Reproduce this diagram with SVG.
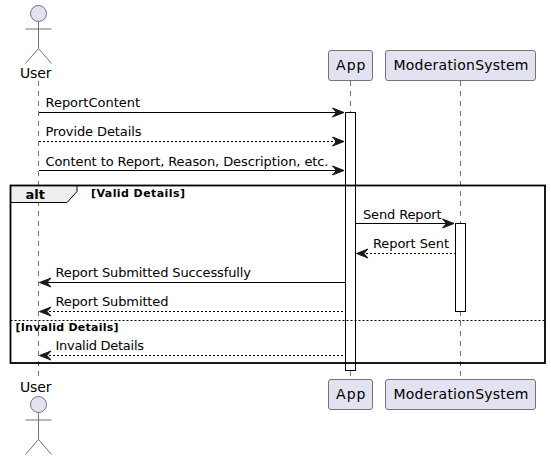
<svg xmlns="http://www.w3.org/2000/svg" width="551" height="460" viewBox="0 0 551 460">
<style>
text{font-family:"DejaVu Sans",sans-serif;font-size:13px;fill:#000}
.big{font-size:14px}
.life{stroke:#737378;stroke-width:1;stroke-dasharray:5,5;fill:none}
.box{fill:#E2E2F0;stroke:#737378;stroke-width:1}
.act{fill:#fff;stroke:#000;stroke-width:1}
.msg{stroke:#000;stroke-width:1;fill:none}
.dash{stroke-dasharray:2,2}
.head{fill:#1a1a1a;stroke:#1a1a1a;stroke-width:1}
.stick{fill:none;stroke:#737378;stroke-width:1}
.cap{font-size:11px;font-weight:bold}
</style>
<defs>
<g id="actor"><circle cx="0" cy="0" r="8" fill="#E2E2F0" stroke="#737378"/><path class="stick" d="M0 8V35M-13 15.500H13M0 35L-13 50M0 35L13 50"/></g>
<polygon id="hr" points="0,0 -11.500,-4.500 -7.500,0 -11.500,4.500"/>
<polygon id="hl" points="0,0 11.500,-4.500 7.500,0 11.500,4.500"/>
</defs>
<g id="lifelines">
<path class="life" d="M38.500 81V377"/><path class="life" d="M350.500 81V377"/><path class="life" d="M460.500 81V377"/>
</g>
<g id="activations">
<rect class="act" x="345.500" y="112.500" width="10" height="258"/>
<rect class="act" x="455.500" y="223.500" width="10" height="88"/>
</g>
<g id="connectors">
<path class="msg" d="M39 112.500H338"/><use href="#hr" class="head" x="344" y="112.500"/>
<path class="msg dash" d="M39 141.500H338"/><use href="#hr" class="head" x="344" y="141.500"/>
<path class="msg" d="M39 170.500H338"/><use href="#hr" class="head" x="344" y="170.500"/>
<path class="msg" d="M356 223.500H448"/><use href="#hr" class="head" x="454" y="223.500"/>
<path class="msg dash" d="M362 253.500H455"/><use href="#hl" class="head" x="356.500" y="253.500"/>
<path class="msg" d="M45 282.500H345"/><use href="#hl" class="head" x="39.500" y="282.500"/>
<path class="msg dash" d="M45 311.500H345"/><use href="#hl" class="head" x="39.500" y="311.500"/>
<path class="msg dash" d="M45 355.500H345"/><use href="#hl" class="head" x="39.500" y="355.500"/>
</g>
<g id="alt-frame">
<path d="M10.500 185.500H77V191.500L67 202.500H10.500Z" fill="#EEEEEE" stroke="#000" stroke-width="1"/>
<rect x="10.500" y="185.500" width="534.500" height="177.500" fill="none" stroke="#000" stroke-width="1.800"/>
<path d="M10.500 320.500H544.500" stroke="#000" stroke-width="1" stroke-dasharray="2,2"/>
<text x="25.500" y="199" textLength="19.500" style="font-weight:bold">alt</text>
<text class="cap" x="91" y="197" textLength="94">[Valid Details]</text>
<text class="cap" x="15.500" y="331" textLength="103">[Invalid Details]</text>
</g>
<g id="labels">
<text x="45.500" y="107" textLength="94.500">ReportContent</text>
<text x="45.500" y="136" textLength="96">Provide Details</text>
<text x="45.500" y="165.500" textLength="283">Content to Report, Reason, Description, etc.</text>
<text x="363" y="219" textLength="78.500">Send Report</text>
<text x="373" y="248" textLength="76">Report Sent</text>
<text x="55.500" y="277" textLength="195.500">Report Submitted Successfully</text>
<text x="55.500" y="306" textLength="113">Report Submitted</text>
<text x="55.500" y="350" textLength="88.500">Invalid Details</text>
</g>
<g id="node-user-top"><use href="#actor" x="38.500" y="13.500"/><text class="big" x="20" y="77.500" textLength="31.500">User</text></g>
<g id="node-app-top"><rect class="box" x="328.500" y="50.500" width="44" height="30" rx="2.500"/><text class="big" x="336" y="70" textLength="29.500">App</text></g>
<g id="node-mod-top"><rect class="box" x="385.500" y="50.500" width="150" height="30" rx="2.500"/><text class="big" x="393.500" y="70" textLength="135">ModerationSystem</text></g>
<g id="node-user-bottom"><text class="big" x="20" y="392" textLength="31.500">User</text><use href="#actor" x="38.500" y="404.500"/></g>
<g id="node-app-bottom"><rect class="box" x="328.500" y="379.500" width="44" height="30" rx="2.500"/><text class="big" x="336" y="399" textLength="29.500">App</text></g>
<g id="node-mod-bottom"><rect class="box" x="385.500" y="379.500" width="150" height="30" rx="2.500"/><text class="big" x="393.500" y="399" textLength="135">ModerationSystem</text></g>
</svg>
